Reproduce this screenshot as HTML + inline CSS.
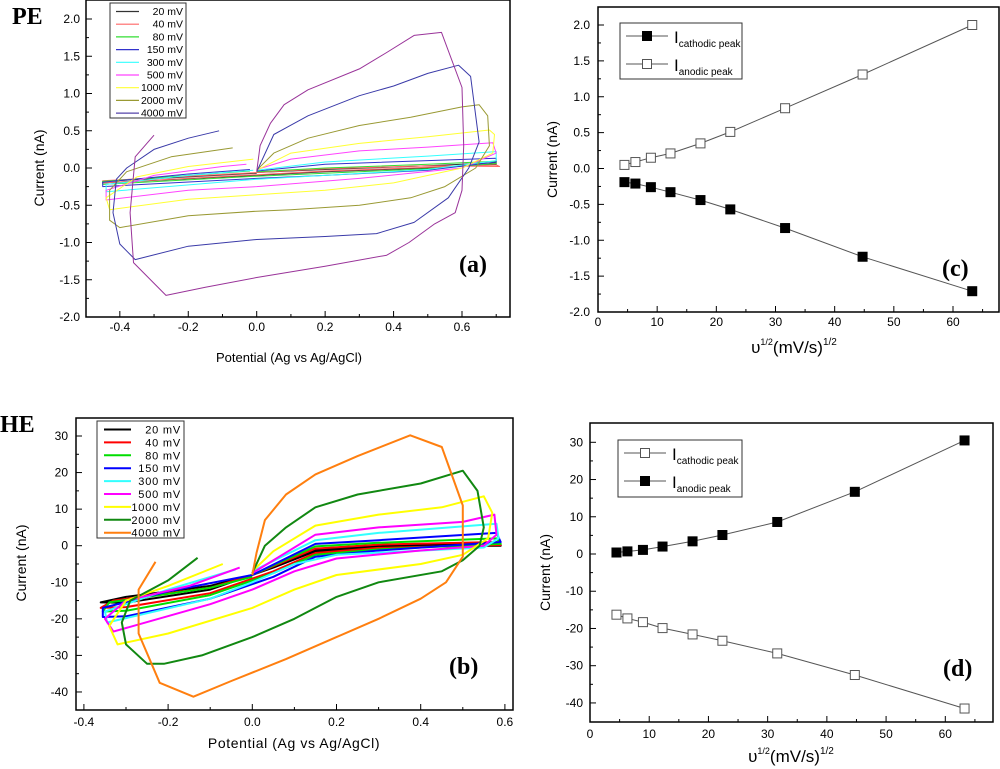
<!DOCTYPE html>
<html><head><meta charset="utf-8">
<style>
html,body{margin:0;padding:0;background:#fff;}
svg{display:block;font-family:"Liberation Sans",sans-serif;}
.tk{font-size:12px;fill:#000;}
.lg{font-size:10.5px;fill:#000;}
.lab{font-family:"Liberation Serif",serif;font-weight:bold;font-size:24px;}
</style></head>
<body>
<svg id="fig" width="1000" height="769" viewBox="0 0 1000 769" xmlns="http://www.w3.org/2000/svg">
<defs>
<clipPath id="clipA"><rect x="86" y="0" width="424" height="317"/></clipPath>
<clipPath id="clipB"><rect x="76" y="418" width="437" height="292"/></clipPath>
</defs>
<text class="lab" x="12" y="24" font-size="22">PE</text>
<text class="lab" x="0" y="432" font-size="22">HE</text>
<g id="gA"></g>
<g id="gB"></g>
<g id="gC"></g>
<g id="gD"></g>
</svg>
<script>
// ---------- data ----------
const scanRates = ["20 mV","40 mV","80 mV","150 mV","300 mV","500 mV","1000 mV","2000 mV","4000 mV"];
const sqrtRate = [4.47,6.32,8.94,12.25,17.32,22.36,31.62,44.72,63.25];
const cAnodic = [0.05,0.09,0.15,0.21,0.35,0.51,0.84,1.31,2.0];
const cCathodic = [-0.19,-0.21,-0.26,-0.33,-0.44,-0.57,-0.83,-1.23,-1.71];
const dAnodic = [0.4,0.7,1.1,2.0,3.4,5.1,8.6,16.7,30.5];
const dCathodic = [-16.3,-17.3,-18.3,-19.9,-21.6,-23.3,-26.7,-32.5,-41.5];
const aColors = ["#333333","#ff6666","#33dd33","#3333cc","#33ffff","#ff44ff","#ffff33","#999933","#5544aa"];
const bColors = ["#000000","#ff0000","#00dd00","#0000ff","#33ffff","#ff00ff","#ffff00","#118811","#ff7f0f"];
const aTicksY = [-2.0,-1.5,-1.0,-0.5,0.0,0.5,1.0,1.5,2.0];
const aTicksX = [-0.4,-0.2,0.0,0.2,0.4,0.6];
const bTicksY = [-40,-30,-20,-10,0,10,20,30];
const bTicksX = [-0.4,-0.2,0.0,0.2,0.4,0.6];
const cTicksX = [0,10,20,30,40,50,60];
// CV loops (E, I) panel a
const aPurple = [[0,-0.05],[0.01,0.3],[0.04,0.6],[0.08,0.85],[0.15,1.05],[0.3,1.33],[0.38,1.55],[0.46,1.78],[0.54,1.82],[0.6,1.08],[0.605,0.3],[0.6,-0.3],[0.58,-0.6],[0.52,-0.75],[0.445,-1.0],[0.38,-1.17],[0.2,-1.32],[0.0,-1.47],[-0.15,-1.6],[-0.265,-1.71],[-0.36,-1.27],[-0.37,-0.6],[-0.355,0.15],[-0.3,0.44]];
const aCurves = [
 [[0,-0.06],[0.2,-0.02],[0.5,0.03],[0.7,0.07],[0.7,0.05],[0.5,0.0],[0.2,-0.05],[0,-0.1],[-0.45,-0.2],[-0.45,-0.18],[-0.2,-0.12],[0,-0.07]],
 [[0,-0.06],[0.2,-0.01],[0.5,0.03],[0.71,0.02],[0.7,0.04],[0.5,0.01],[0.2,-0.04],[0,-0.09],[-0.45,-0.2],[-0.45,-0.17],[-0.2,-0.11],[0,-0.06]],
 [[0,-0.05],[0.2,0.0],[0.5,0.05],[0.7,0.09],[0.7,0.06],[0.5,-0.01],[0.2,-0.07],[0,-0.11],[-0.45,-0.22],[-0.45,-0.18],[-0.2,-0.1],[-0.02,-0.04]],
 [[0,-0.04],[0.2,0.05],[0.5,0.1],[0.7,0.13],[0.7,0.08],[0.5,-0.03],[0.2,-0.1],[0,-0.14],[-0.45,-0.25],[-0.45,-0.19],[-0.2,-0.08],[-0.02,-0.02]],
 [[0,-0.03],[0.2,0.08],[0.5,0.16],[0.7,0.22],[0.7,0.1],[0.5,-0.02],[0.2,-0.1],[0,-0.15],[-0.44,-0.32],[-0.44,-0.22],[-0.2,-0.1],[-0.01,-0.03]],
 [[0,-0.02],[0.1,0.12],[0.3,0.23],[0.5,0.28],[0.69,0.34],[0.7,0.2],[0.6,0.0],[0.3,-0.14],[0,-0.25],[-0.2,-0.3],[-0.44,-0.43],[-0.44,-0.3],[-0.3,-0.1],[-0.1,0.02],[-0.03,0.05]],
 [[0,-0.03],[0.1,0.2],[0.3,0.33],[0.5,0.42],[0.68,0.51],[0.695,0.45],[0.69,0.2],[0.6,0.0],[0.4,-0.2],[0.2,-0.3],[0,-0.36],[-0.2,-0.42],[-0.43,-0.56],[-0.44,-0.4],[-0.35,-0.12],[-0.2,0.02],[-0.01,0.12]],
 [[0,-0.03],[0.05,0.2],[0.15,0.4],[0.3,0.57],[0.45,0.68],[0.6,0.82],[0.65,0.85],[0.675,0.7],[0.68,0.3],[0.64,0.0],[0.55,-0.25],[0.45,-0.4],[0.3,-0.5],[0.1,-0.56],[0,-0.58],[-0.2,-0.64],[-0.4,-0.8],[-0.43,-0.7],[-0.43,-0.3],[-0.38,-0.05],[-0.25,0.15],[-0.07,0.27]],
 [[0,-0.05],[0.05,0.45],[0.15,0.7],[0.3,0.97],[0.4,1.1],[0.5,1.27],[0.59,1.38],[0.625,1.23],[0.65,0.35],[0.62,0.0],[0.56,-0.4],[0.46,-0.73],[0.35,-0.88],[0.2,-0.92],[0,-0.96],[-0.2,-1.05],[-0.355,-1.23],[-0.4,-1.02],[-0.42,-0.6],[-0.41,-0.15],[-0.38,0.0],[-0.3,0.25],[-0.2,0.4],[-0.11,0.5]]
];
// CV loops panel b
const bCurves = [
 [[0,-8],[0.15,-1],[0.3,0],[0.58,0.5],[0.59,0],[0.3,-0.3],[0.15,-1.5],[0.05,-6],[-0.1,-12],[-0.3,-15.6],[-0.36,-15.5],[-0.3,-14],[-0.1,-11],[0,-8]],
 [[0,-8],[0.15,-0.8],[0.3,0.3],[0.58,1],[0.59,0.2],[0.3,-0.6],[0.15,-2],[0.05,-7],[-0.1,-13],[-0.3,-16.8],[-0.36,-17],[-0.33,-15],[-0.1,-11.5],[0,-8]],
 [[0,-8],[0.15,-0.2],[0.3,0.8],[0.58,2],[0.59,0.5],[0.3,-1],[0.15,-2.5],[0.05,-7.5],[-0.1,-13.5],[-0.3,-17.8],[-0.355,-18],[-0.34,-15.5],[-0.1,-11.5],[0,-8.5]],
 [[0,-8],[0.15,0.5],[0.3,1.5],[0.58,3.5],[0.59,1],[0.3,-1.3],[0.15,-3],[0.05,-8.5],[-0.1,-14.5],[-0.3,-19.3],[-0.355,-19.5],[-0.355,-17],[-0.2,-12.5],[0,-8]],
 [[0,-7],[0.15,1.5],[0.3,3.5],[0.58,6],[0.585,2],[0.55,-0.5],[0.2,-2.5],[0.1,-5],[0,-10],[-0.1,-14.5],[-0.345,-21],[-0.35,-18],[-0.2,-12],[-0.04,-6.5]],
 [[0,-7.5],[0.15,3],[0.3,5],[0.5,6.5],[0.575,8.5],[0.58,3],[0.55,0],[0.4,-1.3],[0.2,-3.5],[0.1,-7],[0,-12],[-0.1,-16],[-0.33,-23.5],[-0.35,-20],[-0.3,-15],[-0.15,-11],[-0.03,-6]],
 [[0,-7],[0.05,-1.5],[0.15,5.5],[0.3,8.5],[0.45,10.5],[0.55,13.5],[0.57,9],[0.56,2],[0.5,-2.5],[0.4,-5],[0.2,-8],[0.1,-12],[0,-17],[-0.2,-24],[-0.32,-27],[-0.34,-22],[-0.3,-15],[-0.2,-11],[-0.07,-5]],
 [[0,-7.5],[0.03,0],[0.08,5],[0.15,10.5],[0.25,14],[0.4,17],[0.5,20.5],[0.535,15],[0.55,5],[0.54,0],[0.5,-4],[0.45,-7],[0.3,-10],[0.2,-14],[0.1,-20],[0,-25],[-0.12,-30],[-0.21,-32.3],[-0.25,-32.3],[-0.3,-27],[-0.31,-21],[-0.29,-15],[-0.2,-9.5],[-0.13,-3.3]],
 [[0,-8],[0.01,-2],[0.03,7],[0.08,14],[0.15,19.5],[0.25,24.5],[0.375,30.2],[0.45,27],[0.5,11],[0.5,-3],[0.46,-10],[0.4,-14.5],[0.3,-20],[0.2,-25],[0.08,-31],[-0.05,-37],[-0.14,-41.3],[-0.22,-37.5],[-0.27,-24],[-0.27,-12],[-0.23,-4.4]]
];

const NS="http://www.w3.org/2000/svg";
function mk(parent,tag,attrs,text){const e=document.createElementNS(NS,tag);for(const k in attrs)e.setAttribute(k,attrs[k]);if(text!==undefined)e.textContent=text;parent.appendChild(e);return e;}
function lin(d0,d1,p0,p1){return v=>p0+(v-d0)*(p1-p0)/(d1-d0);}

function axes(g,box,sx,sy,xt,yt,xMinor,yMinor,xfmt,yfmt,xLabY,yLabX){
  const r=mk(g,'rect',{x:box.l,y:box.t,width:box.r-box.l,height:box.b-box.t,fill:'none',stroke:'#000','stroke-width':1.5});
  
  
  xt.forEach(v=>{const x=sx(v);mk(g,'line',{x1:x,x2:x,y1:box.b,y2:box.b-6,stroke:'#000'});
    const t=mk(g,'text',{x:x,y:xLabY,'text-anchor':'middle',class:'tk'},xfmt(v));
    
    });
  xMinor.forEach(v=>{const x=sx(v);mk(g,'line',{x1:x,x2:x,y1:box.b,y2:box.b-3,stroke:'#000'});});
  yt.forEach(v=>{const y=sy(v);mk(g,'line',{x1:box.l,x2:box.l+6,y1:y,y2:y,stroke:'#000'});
    const t=mk(g,'text',{x:yLabX,y:y+4,'text-anchor':'end',class:'tk'},yfmt(v));
    
    });
  yMinor.forEach(v=>{const y=sy(v);mk(g,'line',{x1:box.l,x2:box.l+3,y1:y,y2:y,stroke:'#000'});});
}
function poly(g,pts,sx,sy,color,w,clip){
  const p=mk(g,'polyline',{points:pts.map(q=>sx(q[0]).toFixed(1)+','+sy(q[1]).toFixed(1)).join(' '),fill:'none',stroke:color,'stroke-width':w,'stroke-linejoin':'round','clip-path':clip});
  return p;
}
function ytitle(g,x,y,s,size){const t=mk(g,'text',{x:x,y:y,transform:`rotate(-90 ${x} ${y})`,'text-anchor':'middle','font-size':size},s);
  
  }
function xtitle(g,x,y,s,size){const t=mk(g,'text',{x:x,y:y,'text-anchor':'middle','font-size':size},s);
  
  return t;}
function upsXTitle(g,x,y){
  const t=mk(g,'text',{x:x,y:y,'text-anchor':'middle','font-size':17});
  
  
  mk(t,'tspan',{},'υ');mk(t,'tspan',{dy:-8,'font-size':9},'1/2');mk(t,'tspan',{dy:8},'(mV/s)');mk(t,'tspan',{dy:-8,'font-size':10},'1/2');
}
function f1(v){return v.toFixed(1);}
function f0(v){return String(v);}
function range(a,b,s){const r=[];for(let v=a;v<=b+1e-9;v+=s)r.push(+v.toFixed(4));return r;}

// ---------- Panel A ----------
(function(){
  const g=document.getElementById('gA');
  const box={l:86,t:0,r:510,b:317};
  const sx=lin(0,0.6,256.7,462), sy=lin(0,2,168,19);
  axes(g,box,sx,sy,aTicksX,aTicksY,range(-0.3,0.7,0.2),range(-1.75,1.75,0.5),f1,f1,331,80);
  aCurves.slice(0,8).forEach((c,i)=>{const p=poly(g,c,sx,sy,aColors[i],1,'url(#clipA)');
    
    });
  const p9=poly(g,aCurves[8],sx,sy,'#3a3aa8',1,'url(#clipA)');
  
  
  const pp=poly(g,aPurple,sx,sy,'#993399',1,'url(#clipA)');
  
  
  const lg=mk(g,'g',{});
  
  
  mk(lg,'rect',{x:110,y:3,width:76,height:115,fill:'#fff',stroke:'#333'});
  scanRates.forEach((s,i)=>{const y=11.5+i*12.7;
    mk(lg,'line',{x1:116,x2:139,y1:y,y2:y,stroke:aColors[i],'stroke-width':1.2});
    const t=mk(lg,'text',{x:183,y:y+3.5,'text-anchor':'end',class:'lg'},s);
    
    });
  ytitle(g,44,168,'Current (nA)',14);
  xtitle(g,289,362,'Potential (Ag vs Ag/AgCl)',13);
  const l=mk(g,'text',{x:459,y:272,class:'lab'},'(a)');
  
  
})();

// ---------- Panel B ----------
(function(){
  const g=document.getElementById('gB');
  const box={l:76,t:418,r:513,b:710};
  const sx=lin(0,0.2,252.3,336.5), sy=lin(0,30,545.7,436);
  axes(g,box,sx,sy,bTicksX,bTicksY,range(-0.3,0.5,0.2),range(-35,25,10),f1,f0,726,68);
  bCurves.forEach((c,i)=>{const p=poly(g,c,sx,sy,bColors[i],2,'url(#clipB)');
    
    });
  const lg=mk(g,'g',{});
  
  
  mk(lg,'rect',{x:97,y:421,width:87,height:117,fill:'#fff',stroke:'#333'});
  scanRates.forEach((s,i)=>{const y=429.5+i*12.9;
    mk(lg,'line',{x1:104,x2:131,y1:y,y2:y,stroke:bColors[i],'stroke-width':2});
    const t=mk(lg,'text',{x:181,y:y+4,'text-anchor':'end','font-size':11,'letter-spacing':'0.8'},s);
    
    });
  ytitle(g,26,563,'Current (nA)',14);
  xtitle(g,294,748,'Potential (Ag vs Ag/AgCl)',14).setAttribute('letter-spacing','0.6');
  const l=mk(g,'text',{x:449,y:674,class:'lab'},'(b)');
  
  
})();

function peakPanel(g,box,sx,sy,yt,yMinor,yfmt,yLabX,xLabY,filledS,openS,legBox,firstFilled,labPos){
  axes(g,box,sx,sy,cTicksX,yt,range(5,65,10),yMinor,f0,yfmt,xLabY,yLabX);
  [[filledS,true],[openS,false]].forEach(([s,filled])=>{
    const pts=sqrtRate.map((x,i)=>[x,s[i]]);
    const p=poly(g,pts,sx,sy,'#555',1,'');
    
    
    sqrtRate.forEach((x,i)=>{const m=mk(g,'rect',{x:sx(x)-4.5,y:sy(s[i])-4.5,width:9,height:9,fill:filled?'#000':'#fff',stroke:filled?'#000':'#555','stroke-width':1});
      
      });
  });
  const lg=mk(g,'g',{});
  
  
  mk(lg,'rect',{x:legBox.x,y:legBox.y,width:legBox.w,height:legBox.h,fill:'#fff',stroke:'#333'});
  ['cathodic peak','anodic peak'].forEach((s,i)=>{const y=legBox.y+13+i*28;const filled=(i===0)===firstFilled;
    mk(lg,'line',{x1:legBox.x+6,x2:legBox.x+48,y1:y,y2:y,stroke:'#555'});
    mk(lg,'rect',{x:legBox.x+22.5,y:y-4.5,width:9,height:9,fill:filled?'#000':'#fff',stroke:filled?'#000':'#555'});
    const t=mk(lg,'text',{x:legBox.x+54,y:y+7,'font-size':17},'I');
    
    
    mk(t,'tspan',{dy:4,'font-size':10},s);
  });
  ytitle(g,yLabX-33,(box.t+box.b)/2,'Current (nA)',14);
  const l=mk(g,'text',{x:labPos[0],y:labPos[1],class:'lab'},labPos[2]);
  
  
}
// ---------- Panel C ----------
(function(){
  const g=document.getElementById('gC');
  const box={l:598,t:7,r:999,b:312};
  const sx=lin(0,60,598,953), sy=lin(0,2,168.5,25);
  peakPanel(g,box,sx,sy,aTicksY,range(-1.75,1.75,0.5),f1,590,326,cCathodic,cAnodic,{x:620,y:23,w:122,h:56},true,[942,276,'(c)']);
  upsXTitle(g,794,353);
})();
// ---------- Panel D ----------
(function(){
  const g=document.getElementById('gD');
  const box={l:590,t:423,r:993,b:722};
  const sx=lin(0,60,590,945.3), sy=lin(0,30,554,442.3);
  peakPanel(g,box,sx,sy,bTicksY,range(-35,25,10),f0,583,738,dAnodic,dCathodic,{x:618,y:440,w:124,h:57},false,[943,676,'(d)']);
  upsXTitle(g,791,762);
})();
</script>
</body></html>
